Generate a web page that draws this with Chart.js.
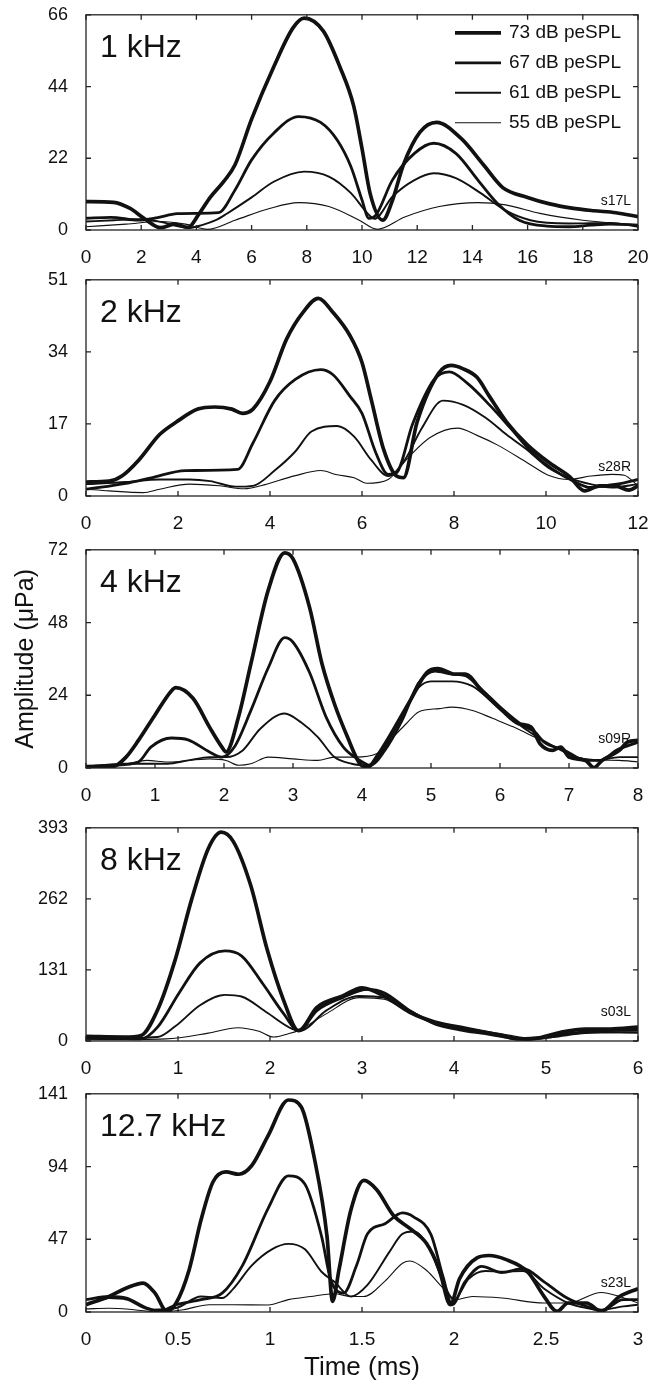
<!DOCTYPE html>
<html>
<head>
<meta charset="utf-8">
<script src="https://cdn.jsdelivr.net/npm/chart.js@4.4.1/dist/chart.umd.min.js"></script>
<style>
  body { margin: 0; background: #fff; }
  #page { position: relative; width: 660px; height: 1393px; overflow: hidden; }
  #page canvas { position: absolute; left: 0; }
</style>
</head>
<body>
<div id="page"></div>
<script>
/* global Chart */
// stimulus levels, one line each
var levels = ['73 dB peSPL', '67 dB peSPL', '61 dB peSPL', '55 dB peSPL']

// 1 kHz (s17L)
var t1k73 = [0, 1, 1.6, 2.1, 2.7, 3.2, 3.7, 4.1, 4.5, 5, 5.4, 6, 6.8, 7.5, 7.9, 8.6, 9.2, 9.7, 10, 10.3, 10.75, 11.1, 11.5, 12.1, 12.7, 13.6, 14.4, 15.1, 16, 16.8, 17.6, 18.4, 19.2, 20]
var a1k73 = [8.7, 8.5, 6.6, 3.6, 0.7, 1.8, 0.8, 5, 10, 15, 20, 34, 50, 62, 65, 61, 50, 38, 25, 11, 3, 9, 20, 30, 33, 28, 20, 13, 10, 8, 6.7, 5.9, 5.3, 4.1]
var t1k67 = [0, 0.9, 1.9, 2.6, 3.3, 4, 4.8, 5.4, 6, 6.8, 7.7, 8.5, 9.1, 9.6, 10, 10.25, 10.5, 11.1, 11.9, 12.6, 13.4, 14.2, 14.9, 15.7, 16.7, 17.5, 18.3, 19, 20]
var a1k67 = [3.6, 3.9, 3, 3.8, 5, 5.1, 5.3, 12.3, 21.5, 29.7, 34.8, 33, 27.6, 19.4, 9.2, 3.6, 4.5, 15.3, 23.5, 26.6, 23.5, 15.3, 8.2, 3, 1.2, 1, 1.5, 1.8, 1.5]
var t1k61 = [0, 1, 2, 2.7, 3.3, 3.7, 4.2, 4.7, 5.1, 6, 6.8, 7.9, 8.8, 9.6, 10.2, 10.45, 11.1, 11.9, 12.6, 13.4, 14.3, 15.2, 16.1, 17.5, 19, 20]
var a1k61 = [2.6, 3, 3.3, 2.5, 1.2, 0.6, 1.5, 3, 5, 10, 14.8, 17.9, 16.4, 11.3, 5.1, 3.4, 10.2, 15.3, 17.4, 15.9, 11.3, 6, 3, 2, 2.2, 1]
var t1k55 = [0, 1.45, 2.7, 3.6, 4.4, 5.4, 6.65, 7.7, 8.8, 9.9, 10.55, 11.55, 12.8, 14.2, 15.2, 16.45, 18, 20]
var a1k55 = [1, 1.8, 2.6, 1.8, 0.2, 3, 6.6, 8.4, 7.2, 3, 0.2, 4, 7.2, 8.4, 7.7, 5.1, 3, 1.5]

// 2 kHz (s28R)
var t2k73 = [0, 0.5, 0.78, 1.15, 1.6, 1.97, 2.43, 2.8, 3.17, 3.4, 3.63, 4, 4.36, 4.73, 5.05, 5.37, 5.74, 6.0, 6.2, 6.47, 6.75, 6.9, 7.2, 7.67, 7.94, 8.2, 8.5, 8.77, 9.14, 9.6, 10.05, 10.5, 10.84, 11.16, 11.5, 11.8, 12]
var a2k73 = [3.3, 3.5, 4.7, 8.5, 14.5, 17.5, 20.5, 21, 20.5, 19.5, 20.5, 27, 37, 43.5, 46.6, 43.3, 37.8, 31.5, 22.8, 11, 4.7, 4.3, 17.5, 29, 30.8, 30, 28, 23.5, 17.5, 12, 8, 4.7, 1.2, 2.4, 2.4, 1.4, 2.4]
var t2k67 = [0, 0.87, 1.42, 2.16, 3.3, 3.63, 4.1, 4.55, 5.1, 5.37, 5.74, 6.0, 6.3, 6.57, 6.75, 7.1, 7.57, 7.9, 8.3, 8.77, 9.23, 9.7, 10.15, 10.6, 10.97, 11.34, 11.7, 12]
var a2k67 = [1.6, 3, 4.3, 6, 6.3, 12.5, 22.5, 27.5, 29.8, 28.6, 23.5, 19.5, 10.2, 5.1, 5.5, 17, 27.5, 29.3, 26.5, 21.5, 16, 10.2, 6.3, 3.5, 2, 2.5, 3.1, 3.9]
var t2k61 = [0, 0.87, 1.6, 2.25, 2.7, 3.26, 3.63, 4.1, 4.55, 4.9, 5.46, 5.83, 6.2, 6.57, 6.93, 7.3, 7.76, 8.2, 8.68, 9.14, 9.6, 10.05, 10.5, 10.97, 11.43, 12]
var a2k61 = [2.8, 3.3, 3.9, 3.9, 3.5, 2.2, 2.4, 6, 10.5, 15.2, 16.5, 14, 8.5, 4.7, 8.5, 16, 22.5, 21.5, 18.5, 14.5, 10.8, 6.7, 4.3, 2.8, 2, 2.8]
var t2k55 = [0, 0.5, 1.24, 1.6, 2.25, 2.9, 3.44, 3.8, 4.55, 5.1, 5.46, 5.83, 6.1, 6.57, 7.0, 7.48, 8.08, 8.5, 8.95, 9.6, 10.05, 10.5, 10.97, 11.43, 11.7, 12]
var a2k55 = [1.6, 1.2, 0.8, 1.6, 2.8, 2.4, 1.7, 2.4, 4.8, 6, 5, 4.3, 3, 3.9, 9, 13.8, 16, 14.3, 12, 7.8, 4.9, 3.9, 4.7, 5.1, 4.9, 2.4]

// 4 kHz (s09R)
var t4k73 = [0, 0.39, 0.58, 0.76, 1, 1.24, 1.3, 1.55, 1.79, 1.97, 2.03, 2.21, 2.39, 2.64, 2.88, 3.0, 3.24, 3.42, 3.6, 3.79, 3.97, 4.09, 4.21, 4.45, 4.7, 4.94, 5.1, 5.35, 5.5, 5.73, 6.03, 6.27, 6.45, 6.58, 6.76, 6.88, 7.0, 7.24, 7.36, 7.48, 7.73, 7.85, 8]
var a4k73 = [0.5, 0.5, 3.6, 9.1, 17.5, 25.5, 26.5, 23, 13.5, 6.9, 5.3, 16.8, 34.4, 58.6, 71, 69, 53, 34.4, 21.2, 10.2, 1.4, 0.3, 3.6, 12.4, 22.3, 31.5, 32.8, 31, 31, 25.6, 19, 14.6, 13.5, 8, 5.8, 6.9, 3.6, 2.5, 0.1, 2.5, 5.8, 8.6, 9.1]
var t4k67 = [0, 0.39, 0.76, 0.94, 1.24, 1.48, 1.79, 1.97, 2.15, 2.39, 2.64, 2.88, 3.0, 3.24, 3.48, 3.73, 3.97, 4.12, 4.33, 4.58, 4.82, 5.06, 5.3, 5.5, 5.73, 6.03, 6.33, 6.5, 6.64, 6.94, 7.24, 7.45, 7.7, 8]
var a4k67 = [0.5, 0.9, 2, 6.9, 9.9, 9.3, 5.3, 3.6, 6.9, 19, 33, 43, 41.5, 31.5, 16.8, 6.9, 2.5, 0.9, 5.8, 15.7, 28, 32, 31, 30.5, 26, 19.5, 14, 12, 8.5, 5.8, 2.5, 2.5, 6, 8.5]
var t4k61 = [0, 0.58, 1.18, 1.48, 1.79, 2.03, 2.27, 2.52, 2.88, 3.12, 3.36, 3.6, 3.85, 4.09, 4.33, 4.58, 4.82, 5.0, 5.3, 5.6, 5.9, 6.2, 6.5, 6.8, 7.1, 7.4, 7.73, 8]
var a4k61 = [0.5, 1.4, 1.4, 2.5, 3.6, 3.6, 5.8, 12.8, 18, 15, 10.2, 3.6, 1.4, 0.9, 6.9, 17, 26.5, 28.6, 28.6, 27, 21.5, 15.7, 10.8, 6.9, 3.6, 2.5, 3.6, 3.6]
var t4k55 = [0, 0.58, 0.88, 1.18, 1.79, 2.03, 2.21, 2.39, 2.64, 3.0, 3.36, 3.6, 3.9, 4.21, 4.45, 4.64, 4.82, 5.12, 5.3, 5.6, 5.9, 6.2, 6.5, 6.8, 7.1, 7.4, 7.73, 8]
var a4k55 = [0.5, 1.4, 2.5, 2, 3, 2.5, 0.9, 1.4, 3.6, 3, 2.5, 3.6, 3.6, 4.7, 10.2, 14.6, 18.5, 19.6, 20.1, 19, 16.3, 13.5, 10.2, 6.9, 3.6, 2.7, 2.5, 2]

// 8 kHz (s03L)
var t8k73 = [0, 0.42, 0.6, 0.78, 0.97, 1.15, 1.33, 1.47, 1.6, 1.79, 1.97, 2.15, 2.31, 2.51, 2.79, 3.0, 3.24, 3.52, 3.79, 4.06, 4.29, 4.52, 4.7, 4.93, 5.16, 5.43, 5.7, 6]
var a8k73 = [8.5, 7.3, 10.3, 58, 150, 262, 355, 385, 368, 287, 168, 74, 19, 62, 83, 98, 83, 53, 35, 25.5, 18, 10, 4, 6, 16, 22, 22, 25.5]
var t8k67 = [0, 0.6, 0.78, 1.01, 1.24, 1.51, 1.69, 1.92, 2.15, 2.31, 2.51, 2.79, 3.06, 3.24, 3.52, 3.79, 4.06, 4.34, 4.61, 4.79, 4.98, 5.25, 5.52, 5.8, 6]
var a8k67 = [8, 4, 26, 88, 144, 166, 157, 106, 50, 19, 56, 80, 95, 89, 56, 31.6, 20.7, 13.4, 6, 2.4, 6, 13.4, 18, 19.4, 20.7]
var t8k61 = [0, 0.78, 0.97, 1.24, 1.51, 1.69, 1.97, 2.24, 2.33, 2.61, 2.97, 3.24, 3.52, 3.79, 4.06, 4.52, 4.79, 5.07, 5.43, 6]
var a8k61 = [4, 7.3, 27, 66, 85, 82, 52, 22.5, 19, 56, 83, 80, 56, 33, 22.5, 10, 4, 7.3, 14.6, 16.4]
var t8k55 = [0, 0.87, 1.33, 1.65, 1.88, 2.04, 2.2, 2.31, 2.61, 2.97, 3.24, 3.52, 3.79, 4.06, 4.52, 4.79, 5.07, 5.43, 6]
var a8k55 = [2.4, 4, 14.5, 24.5, 18, 7.3, 13.4, 19.4, 50, 80, 77, 53, 34.6, 25.5, 13.4, 6, 10.3, 16.4, 14.6]

// 12.7 kHz (s23L)
var t12k73 = [0, 0.125, 0.22, 0.31, 0.375, 0.44, 0.49, 0.56, 0.625, 0.69, 0.76, 0.83, 0.9, 0.99, 1.1, 1.17, 1.24, 1.31, 1.34, 1.375, 1.44, 1.51, 1.58, 1.67, 1.76, 1.85, 1.92, 1.98, 2.03, 2.125, 2.19, 2.28, 2.4, 2.49, 2.56, 2.62, 2.72, 2.8, 2.9, 3]
var a12k73 = [4.7, 10, 15.5, 18.7, 12.2, 0.4, 5.8, 27, 59.4, 84, 90.5, 89, 94.5, 114, 137, 132.5, 100, 48.7, 6.9, 27.3, 66, 85, 79, 62.5, 54, 44.4, 27.3, 4.7, 21.5, 35, 36.5, 34, 26, 10, 0.4, 5.8, 5.8, 0.4, 10, 15]
var t12k67 = [0, 0.125, 0.22, 0.33, 0.4, 0.49, 0.625, 0.74, 0.85, 0.99, 1.1, 1.19, 1.28, 1.33, 1.4, 1.47, 1.53, 1.625, 1.72, 1.78, 1.875, 1.94, 1.99, 2.06, 2.15, 2.26, 2.375, 2.49, 2.6, 2.72, 2.8, 2.92, 3]
var a12k67 = [8, 10, 9, 2.6, 0.4, 4.7, 8, 12.2, 30, 67, 88, 82.5, 49, 20.8, 12.2, 30, 50.5, 57, 64, 61.5, 50, 23, 4.7, 19.5, 29.5, 25.5, 28, 19.5, 10, 3.6, 1, 8, 8]
var t12k61 = [0, 0.125, 0.22, 0.35, 0.49, 0.625, 0.74, 0.8, 0.9, 1.01, 1.1, 1.19, 1.28, 1.35, 1.44, 1.53, 1.65, 1.72, 1.78, 1.875, 1.94, 2.0, 2.08, 2.17, 2.26, 2.375, 2.49, 2.62, 2.72, 2.8, 2.92, 3]
var a12k61 = [4.7, 9, 8, 1.5, 2.6, 10, 9, 15, 30, 40.5, 44, 40.5, 26, 19.5, 10, 17.5, 39, 50.5, 52, 39, 19.5, 8, 21.5, 26.5, 26, 26.5, 15, 5.8, 2.6, 1.5, 3.6, 4.7]
var t12k55 = [0, 0.125, 0.26, 0.4, 0.53, 0.67, 0.8, 0.99, 1.1, 1.22, 1.35, 1.44, 1.51, 1.625, 1.72, 1.76, 1.85, 1.94, 2.01, 2.1, 2.26, 2.49, 2.62, 2.8, 2.9, 3]
var a12k55 = [2, 2.4, 1.5, 0, 1.5, 4.7, 4.7, 4.5, 8, 10, 11.8, 10, 10, 20, 31.5, 33, 27, 15.5, 8, 10, 9, 5.8, 5.8, 12.6, 10, 5.8]

// axis limits per panel
var panelNames = ['1 kHz', '2 kHz', '4 kHz', '8 kHz', '12.7 kHz']
var subjectTags = ['s17L', 's28R', 's09R', 's03L', 's23L']
var timeMax = [20, 12, 8, 6, 3]
var timeStep = [2, 2, 1, 1, 0.5]
var ampMax = [66, 51, 72, 393, 141]

window.onload = function () {
  var $page = document.querySelector('#page')
  var font = '"Liberation Sans", Arial, sans-serif'
  var ink = '#111'
  var lineWidths = [3.7, 2.8, 1.9, 1.1]
  // plot frame positions (top, bottom) in page pixels
  var frames = [[15, 230], [280, 496], [550, 768], [828, 1041], [1094, 1312]]
  var plotLeft = 86
  var plotRight = 638

  var times = [
    [t1k73, t1k67, t1k61, t1k55],
    [t2k73, t2k67, t2k61, t2k55],
    [t4k73, t4k67, t4k61, t4k55],
    [t8k73, t8k67, t8k61, t8k55],
    [t12k73, t12k67, t12k61, t12k55]
  ]
  var amps = [
    [a1k73, a1k67, a1k61, a1k55],
    [a2k73, a2k67, a2k61, a2k55],
    [a4k73, a4k67, a4k61, a4k55],
    [a8k73, a8k67, a8k61, a8k55],
    [a12k73, a12k67, a12k61, a12k55]
  ]

  function toPoints (t, a) {
    return t.map(function (x, i) { return { x: x, y: a[i] } })
  }

  // box, inward ticks, panel name, subject tag and legend
  var framePlugin = {
    id: 'frame',
    afterDatasetsDraw: function (chart, args, opts) {
      var ctx = chart.ctx
      var area = chart.chartArea
      var xs = chart.scales.x
      var ys = chart.scales.y
      ctx.save()
      ctx.strokeStyle = '#222'
      ctx.lineWidth = 1.3
      ctx.strokeRect(area.left, area.top, area.right - area.left, area.bottom - area.top)
      ctx.beginPath()
      xs.ticks.forEach(function (tick) {
        var px = xs.getPixelForValue(tick.value)
        ctx.moveTo(px, area.bottom)
        ctx.lineTo(px, area.bottom - 5)
        ctx.moveTo(px, area.top)
        ctx.lineTo(px, area.top + 5)
      })
      ys.ticks.forEach(function (tick) {
        var py = ys.getPixelForValue(tick.value)
        ctx.moveTo(area.left, py)
        ctx.lineTo(area.left + 5, py)
        ctx.moveTo(area.right, py)
        ctx.lineTo(area.right - 5, py)
      })
      ctx.stroke()

      ctx.fillStyle = ink
      ctx.textAlign = 'left'
      ctx.textBaseline = 'alphabetic'
      ctx.font = '32px ' + font
      ctx.fillText(opts.name, area.left + 14, area.top + 42)
      ctx.textAlign = 'right'
      ctx.font = '14px ' + font
      ctx.fillText(opts.tag, area.right - 7, area.bottom - 25)

      if (opts.legend) {
        chart.data.datasets.forEach(function (ds, i) {
          var y = area.top + 18 + i * 30
          ctx.beginPath()
          ctx.lineWidth = ds.borderWidth
          ctx.strokeStyle = ds.borderColor
          ctx.moveTo(area.right - 183, y)
          ctx.lineTo(area.right - 137, y)
          ctx.stroke()
          ctx.textAlign = 'left'
          ctx.textBaseline = 'middle'
          ctx.font = '19px ' + font
          ctx.fillText(ds.label, area.right - 129, y)
        })
      }
      ctx.restore()
    }
  }

  function buildConfig (n, axisHeight) {
    var last = n === panelNames.length - 1
    var datasets = levels.map(function (label, i) {
      return {
        label: label,
        data: toPoints(times[n][i], amps[n][i]),
        borderColor: ink,
        borderWidth: lineWidths[i],
        pointRadius: 0,
        cubicInterpolationMode: 'monotone',
        fill: false
      }
    })
    return {
      type: 'line',
      data: { datasets: datasets },
      plugins: [framePlugin],
      options: {
        responsive: false,
        maintainAspectRatio: false,
        animation: false,
        devicePixelRatio: 1,
        layout: { padding: { top: 0, right: 660 - plotRight, left: 0, bottom: 0 } },
        plugins: {
          legend: { display: false },
          tooltip: { enabled: false },
          frame: { name: panelNames[n], tag: subjectTags[n], legend: n === 0 }
        },
        scales: {
          x: {
            type: 'linear',
            min: 0,
            max: timeMax[n],
            grid: { display: false },
            border: { display: false },
            ticks: {
              stepSize: timeStep[n],
              color: ink,
              font: { family: font, size: 19 },
              padding: 8,
              maxRotation: 0,
              autoSkip: false,
              callback: function (value) { return String(Math.round(value * 100) / 100) }
            },
            title: { display: last, text: 'Time (ms)', color: ink, font: { family: font, size: 26 }, padding: { top: 0, bottom: 9 } },
            afterFit: function (scale) { scale.height = axisHeight }
          },
          y: {
            type: 'linear',
            min: 0,
            max: ampMax[n],
            grid: { display: false },
            border: { display: false },
            ticks: { stepSize: ampMax[n] / 3, color: ink, font: { family: font, size: 18 }, padding: 10 },
            title: { display: n === 2, text: 'Amplitude (μPa)', color: ink, font: { family: font, size: 25 }, padding: { top: 11, bottom: 0 } },
            afterFit: function (scale) { scale.width = plotLeft }
          }
        }
      }
    }
  }

  panelNames.forEach(function (name, n) {
    var axisHeight = n === panelNames.length - 1 ? 80 : 34
    var top = frames[n][0]
    var bottom = frames[n][1]
    var canvas = document.createElement('canvas')
    canvas.width = 660
    canvas.height = 300 + axisHeight
    canvas.style.top = '0px'
    $page.appendChild(canvas)

    // first pass: find how far the plot area sits below the canvas top
    var probe = new Chart(canvas, buildConfig(n, axisHeight))
    var offset = probe.chartArea.top
    probe.destroy()

    canvas.width = 660
    canvas.height = Math.round(offset + (bottom - top) + axisHeight)
    canvas.style.width = '660px'
    canvas.style.height = canvas.height + 'px'
    var chart = new Chart(canvas, buildConfig(n, axisHeight))
    // line the plot frame up with the page position
    canvas.style.top = (top - chart.chartArea.top) + 'px'
  })
}
</script>
</body>
</html>
